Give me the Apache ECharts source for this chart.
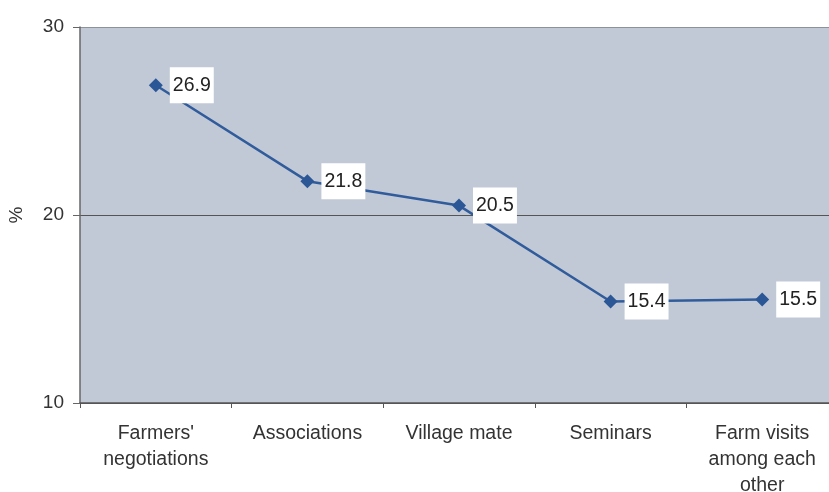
<!DOCTYPE html>
<html>
<head>
<meta charset="utf-8">
<script src="https://cdn.jsdelivr.net/npm/echarts@6/dist/echarts.min.js"></script>
<style>
  html, body { margin: 0; padding: 0; background: #ffffff; overflow: hidden; }
  #chart { width: 829px; height: 492px; }
</style>
</head>
<body>
<div id="chart"></div>
<script>
// Sources of information, share of respondents (%)
const categories = [
  "Farmers'\nnegotiations",
  'Associations',
  'Village mate',
  'Seminars',
  'Farm visits\namong each\nother'
];
const shares = [26.9, 21.8, 20.5, 15.4, 15.5];
const yTicks = [10, 20, 30];

const FONT = 'Liberation Sans, Arial, sans-serif';
const chart = echarts.init(document.getElementById('chart'));
chart.setOption({
  animation: false,
  grid: {
    left: 80, right: -9, top: 27, bottom: 89,
    outerBoundsMode: 'none',
    show: true, backgroundColor: '#c2c9d6', borderWidth: 0
  },
  xAxis: {
    type: 'category',
    data: categories,
    boundaryGap: true,
    axisLine: { lineStyle: { color: '#555', width: 1.5 } },
    axisTick: { show: true, length: 5, lineStyle: { color: '#555' } },
    axisLabel: {
      color: '#333', fontFamily: FONT,
      fontSize: 19.5, lineHeight: 26, margin: 18
    }
  },
  yAxis: {
    type: 'value',
    min: yTicks[0], max: yTicks[yTicks.length - 1], interval: 10,
    name: '%',
    nameLocation: 'middle',
    nameGap: 54,
    nameRotate: 90,
    nameTextStyle: { color: '#333', fontSize: 19, fontFamily: FONT },
    axisLine: { show: true, lineStyle: { color: '#666', width: 1.5 } },
    axisTick: { show: true, length: 7, lineStyle: { color: '#666' } },
    axisLabel: {
      color: '#333', fontFamily: FONT,
      fontSize: 19, margin: 16
    },
    splitLine: { show: true, lineStyle: { color: ['#555', '#555', '#8c919b'], width: 1 } }
  },
  series: [{
    type: 'line',
    data: shares,
    symbol: 'diamond',
    symbolSize: 14,
    itemStyle: { color: '#2b5797' },
    lineStyle: { color: '#305c9c', width: 2.5 },
    label: {
      show: true,
      position: 'right',
      distance: 7,
      color: '#222',
      fontFamily: FONT,
      fontSize: 19.5,
      backgroundColor: '#ffffff',
      padding: [8, 3, 8, 3],
      formatter: p => p.value.toFixed(1)
    }
  }]
});
</script>
</body>
</html>
